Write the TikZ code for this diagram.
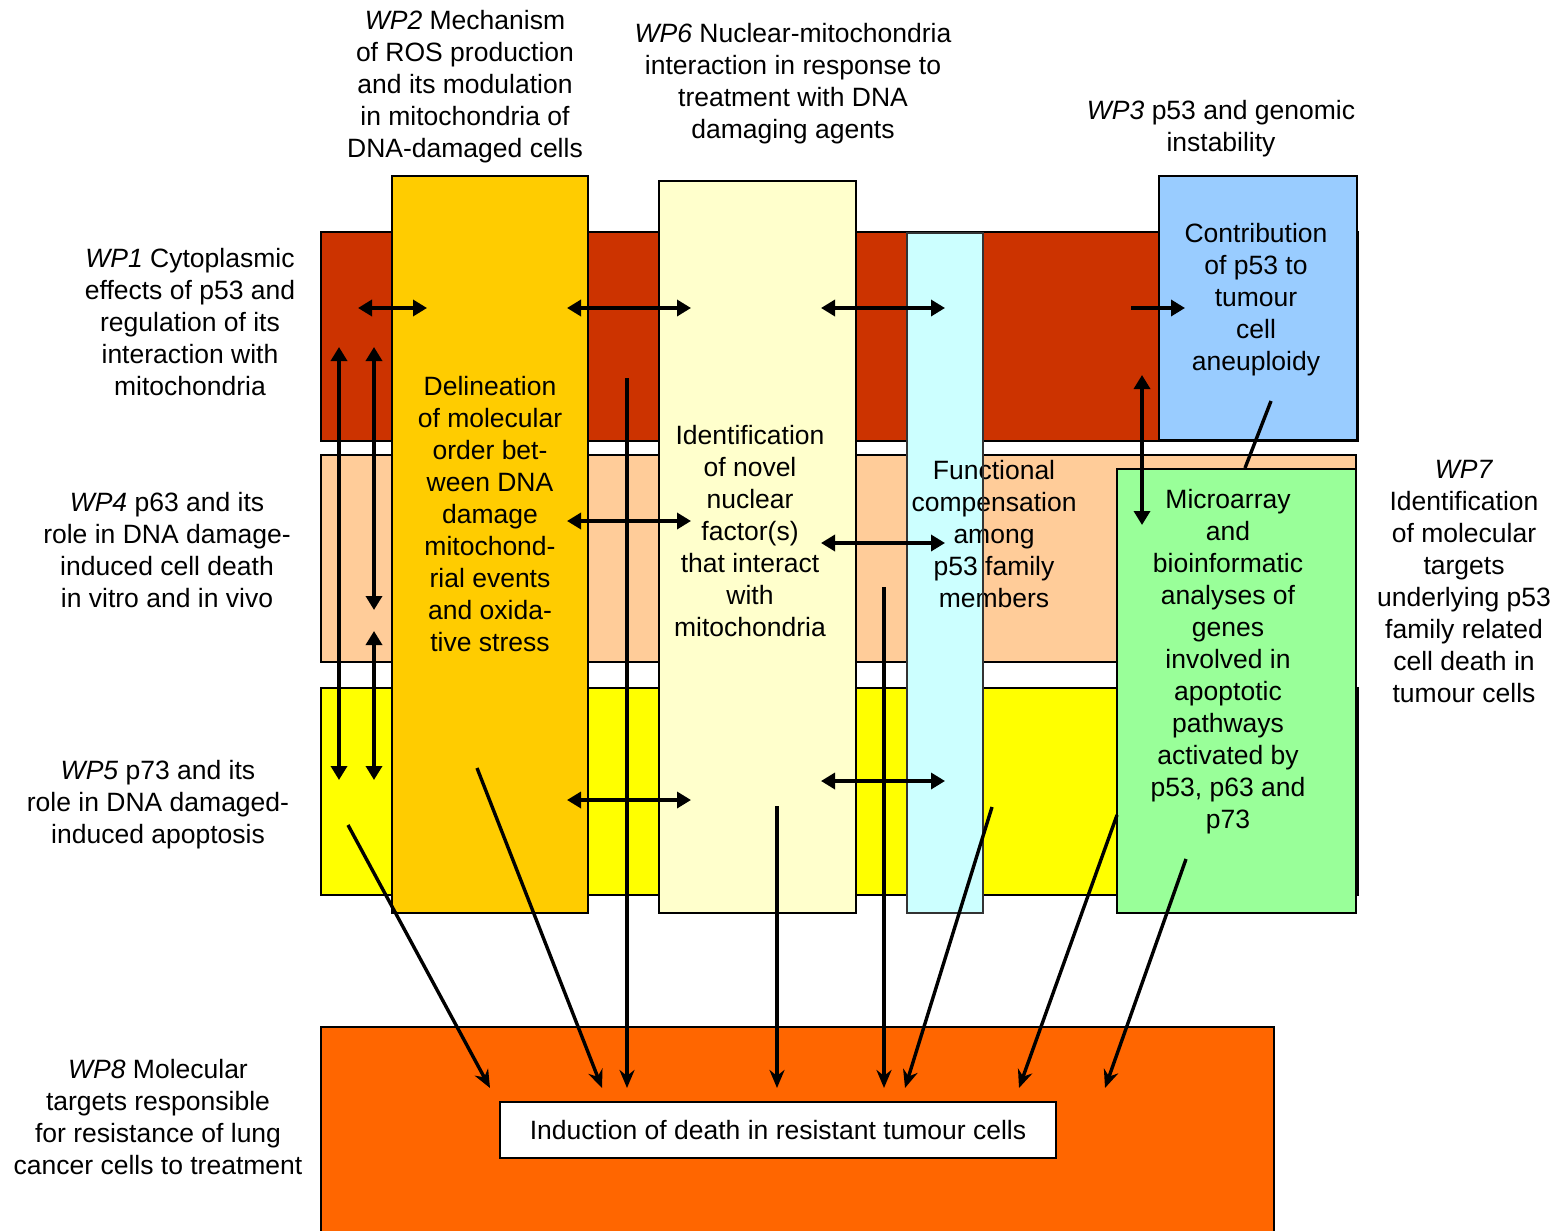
\documentclass[tikz,border=0pt]{standalone}
\usepackage{fontspec}
\setmainfont{Liberation Sans}
\usetikzlibrary{arrows.meta}
\definecolor{wpred}{HTML}{CC3300}
\definecolor{wppeach}{HTML}{FFCC99}
\definecolor{wpyellow}{HTML}{FFFF00}
\definecolor{wporange}{HTML}{FFCC00}
\definecolor{wplight}{HTML}{FFFFCC}
\definecolor{wpcyan}{HTML}{CCFFFF}
\definecolor{wpblue}{HTML}{99CCFF}
\definecolor{wpgreen}{HTML}{99FF99}
\definecolor{wpdeep}{HTML}{FF6600}
\tikzset{
  band/.style={draw=black, line width=1pt},
  lbl/.style={inner sep=0pt, align=center, font=\fontsize{13.25}{16}\selectfont},
  dbl/.style={line width=1.7pt, {Triangle[length=7pt,width=8pt]}-{Triangle[length=7pt,width=8pt]}},
  sgl/.style={line width=1.7pt, -{Triangle[length=7pt,width=8pt]}},
  downarr/.style={line width=1.7pt, -{Stealth[length=9pt,width=7.5pt]}},
  plainln/.style={line width=1.7pt},
}
\begin{document}
\begin{tikzpicture}[x=0.5pt,y=-0.5pt]
\useasboundingbox (0,0) rectangle (1566,1230);
% horizontal bands
\path[band, fill=wpred] (321,232) rectangle (1358,441);
\path[band, fill=wppeach] (321,455) rectangle (1356,662);
\path[band, fill=wpyellow] (321,688) rectangle (1358,895);
% vertical boxes
\path[band, fill=wporange] (392,176) rectangle (588,913);
\path[band, fill=wplight] (659,181) rectangle (856,913);
\path[fill=wpcyan] (907,233) rectangle (983,913);
\path[band, fill=wpgreen] (1117,469) rectangle (1356,913);
\path[band, fill=wpblue] (1159,176) rectangle (1357,440);
% WP8 band
\path[band, fill=wpdeep] (321,1027) rectangle (1274,1240);

% box texts
\node[lbl] (t2) at (490,514) {Delineation\\of molecular\\order bet-\\ween DNA\\damage\\mitochond-\\rial events\\and oxida-\\tive stress};
\node[lbl] (t6) at (750,531) {Identification\\of novel\\nuclear\\factor(s)\\that interact\\with\\mitochondria};
\node[lbl] (tc) at (994,534) {Functional\\compensation\\among\\p53 family\\members};
\draw[line width=1pt, draw=black!80] (907,233) rectangle (983,913);
\node[lbl] (t3) at (1256,300) {Contribution\\of p53 to\\tumour\\cell\\aneuploidy};
\node[lbl] (t7) at (1228,662) {Microarray\\and\\bioinformatic\\analyses of\\genes\\involved in\\apoptotic\\pathways\\activated by\\p53, p63 and\\p73};
\node[lbl, draw=black, line width=1pt, fill=white, minimum width=278pt, minimum height=28pt] (res) at (778,1130) {Induction of death in resistant tumour cells};

% outside labels
\node[lbl] (wp2) at (465,87) {\textit{WP2} Mechanism\\of ROS production\\and its modulation\\in mitochondria of\\DNA-damaged cells};
\node[lbl] (wp6) at (793,84) {\textit{WP6} Nuclear-mitochondria\\interaction in response to\\treatment with DNA\\damaging agents};
\node[lbl] (wp3) at (1221,129) {\textit{WP3} p53 and genomic\\instability};
\node[lbl] (wp1) at (190,322) {\textit{WP1} Cytoplasmic\\effects of p53 and\\regulation of its\\interaction with\\mitochondria};
\node[lbl] (wp4) at (167,550) {\textit{WP4} p63 and its\\role in DNA damage-\\induced cell death\\in vitro and in vivo};
\node[lbl] (wp5) at (158,805) {\textit{WP5} p73 and its\\role in DNA damaged-\\induced apoptosis};
\node[lbl] (wp8) at (158,1117) {\textit{WP8} Molecular\\targets responsible\\for resistance of lung\\cancer cells to treatment};
\node[lbl] (wp7) at (1464,582) {\textit{WP7}\\Identification\\of molecular\\targets\\underlying p53\\family related\\cell death in\\tumour cells};

% coordinates for connectors
\coordinate (a1) at (358,308); \coordinate (b1) at (427,308);
\coordinate (a2) at (567,308); \coordinate (b2) at (691,308);
\coordinate (a3) at (821,308); \coordinate (b3) at (945,308);
\coordinate (a4) at (1131,308); \coordinate (b4) at (1185,308);
\coordinate (a5) at (567,521); \coordinate (b5) at (691,521);
\coordinate (a6) at (821,543); \coordinate (b6) at (945,543);
\coordinate (a7) at (567,800); \coordinate (b7) at (691,800);
\coordinate (a8) at (821,781); \coordinate (b8) at (945,781);
\coordinate (v1a) at (339,347); \coordinate (v1b) at (339,780);
\coordinate (v2a) at (374,347); \coordinate (v2b) at (374,610);
\coordinate (v3a) at (374,631); \coordinate (v3b) at (374,780);
\coordinate (v4a) at (1142,375); \coordinate (v4b) at (1142,525);
\coordinate (la) at (1271,401); \coordinate (lb) at (1245,468);
\coordinate (s1) at (348,825); \coordinate (e1) at (490,1088);
\coordinate (s2) at (477,768); \coordinate (e2) at (602,1088);
\coordinate (s3) at (627,378); \coordinate (e3) at (627,1088);
\coordinate (s4) at (777,806); \coordinate (e4) at (777,1088);
\coordinate (s5) at (884,587); \coordinate (e5) at (884,1088);
\coordinate (s6) at (992,807); \coordinate (e6) at (905,1088);
\coordinate (s7) at (1117,815); \coordinate (e7) at (1019,1088);
\coordinate (s8) at (1186,859); \coordinate (e8) at (1105,1088);

% connectors
\draw[dbl] (a1) -- (b1);
\draw[dbl] (a2) -- (b2);
\draw[dbl] (a3) -- (b3);
\draw[sgl] (a4) -- (b4);
\draw[dbl] (a5) -- (b5);
\draw[dbl] (a6) -- (b6);
\draw[dbl] (a7) -- (b7);
\draw[dbl] (a8) -- (b8);
\draw[dbl] (v1a) -- (v1b);
\draw[dbl] (v2a) -- (v2b);
\draw[dbl] (v3a) -- (v3b);
\draw[dbl] (v4a) -- (v4b);
\draw[plainln] (la) -- (lb);
\draw[downarr] (s1) -- (e1);
\draw[downarr] (s2) -- (e2);
\draw[downarr] (s3) -- (e3);
\draw[downarr] (s4) -- (e4);
\draw[downarr] (s5) -- (e5);
\draw[downarr] (s6) -- (e6);
\draw[downarr] (s7) -- (e7);
\draw[downarr] (s8) -- (e8);
\end{tikzpicture}
\end{document}
